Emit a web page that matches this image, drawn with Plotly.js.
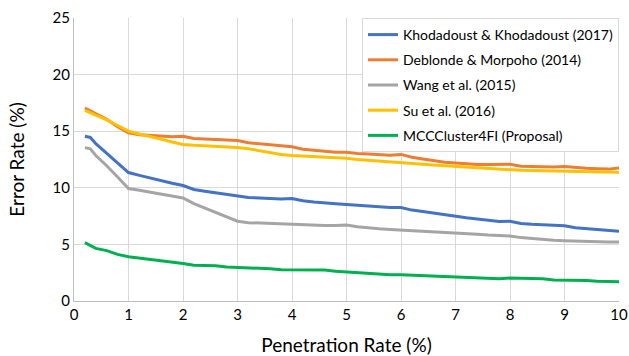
<!DOCTYPE html>
<html>
<head>
<meta charset="utf-8">
<script src="https://cdn.plot.ly/plotly-3.0.1.min.js"></script>
<style>html,body{margin:0;padding:0;background:#fff;}#chart{width:629px;height:356px;}</style>
</head>
<body>
<div id="chart"></div>
<script>
const penetration = [0.2,0.3,0.4,0.6,0.8,1.0,1.2,1.4,1.6,1.8,2.0,2.2,2.4,2.6,2.8,3.0,3.2,3.4,3.6,3.8,4.0,4.2,4.4,4.6,4.8,5.0,5.2,5.4,5.6,5.8,6.0,6.2,6.4,6.6,6.8,7.0,7.2,7.4,7.6,7.8,8.0,8.2,8.4,8.6,8.8,9.0,9.2,9.4,9.6,9.8,10.0];
const khodadoust = [14.55,14.45,13.9,13.05,12.25,11.35,11.1,10.85,10.65,10.4,10.2,9.85,9.7,9.55,9.4,9.3,9.15,9.1,9.05,9.0,9.05,8.85,8.75,8.65,8.6,8.53,8.45,8.35,8.3,8.25,8.25,8.03,7.9,7.75,7.6,7.5,7.35,7.25,7.15,7.02,7.05,6.85,6.78,6.72,6.68,6.65,6.47,6.38,6.3,6.22,6.15];
const deblonde = [17.05,16.8,16.5,16.05,15.4,14.85,14.68,14.6,14.55,14.5,14.56,14.36,14.3,14.25,14.18,14.18,13.98,13.88,13.78,13.68,13.62,13.4,13.3,13.22,13.15,13.15,13.03,12.98,12.93,12.88,12.95,12.7,12.55,12.4,12.25,12.18,12.1,12.06,12.05,12.05,12.08,11.91,11.88,11.85,11.83,11.88,11.77,11.72,11.68,11.65,11.74];
const wang = [13.55,13.45,12.85,11.95,10.95,9.94,9.78,9.62,9.48,9.3,9.1,8.6,8.2,7.8,7.4,7.05,6.92,6.88,6.86,6.83,6.82,6.75,6.72,6.68,6.68,6.71,6.55,6.45,6.38,6.32,6.27,6.22,6.18,6.15,6.1,6.06,5.98,5.9,5.83,5.77,5.74,5.6,5.5,5.42,5.36,5.32,5.28,5.24,5.21,5.21,5.21];
const su = [16.85,16.65,16.45,16.0,15.5,15.0,14.75,14.55,14.3,14.05,13.83,13.75,13.7,13.68,13.63,13.56,13.45,13.28,13.12,12.95,12.85,12.8,12.76,12.72,12.66,12.6,12.5,12.42,12.34,12.27,12.22,12.15,12.08,12.02,11.96,11.9,11.82,11.75,11.68,11.6,11.56,11.54,11.52,11.5,11.48,11.46,11.44,11.42,11.4,11.39,11.38];
const mcc = [5.15,4.9,4.65,4.45,4.12,3.91,3.8,3.68,3.55,3.48,3.32,3.15,3.12,3.12,3.0,2.96,2.94,2.92,2.85,2.76,2.76,2.76,2.74,2.74,2.62,2.56,2.5,2.43,2.35,2.32,2.32,2.28,2.22,2.2,2.16,2.12,2.06,2.02,1.98,1.97,2.03,2.02,2.0,1.96,1.85,1.84,1.83,1.82,1.74,1.71,1.71];
const seriesNames = ["Khodadoust & Khodadoust (2017)","Deblonde & Morpoho (2014)","Wang et al. (2015)","Su et al. (2016)","MCCCluster4FI (Proposal)"];
const seriesValues = [khodadoust, deblonde, wang, su, mcc];
const colors = ["#4472C4","#ED7D31","#A5A5A5","#FFC000","#00B050"];

const traces = seriesValues.map((v,i)=>({
  x: penetration, y: v, type:'scatter', mode:'lines', name: seriesNames[i],
  legendgroup: 'g'+i,
  line:{color:colors[i], width:3}
}));

const font = "Lato, 'Open Sans', sans-serif";
const layout = {
  width:629, height:356,
  margin:{l:74, r:10, t:18, b:55, autoexpand:false},
  paper_bgcolor:'#fff', plot_bgcolor:'#fff',
  font:{family:font, color:'#000', size:14},
  showlegend:true,
  legend:{x:1.0, y:1.0, xanchor:'right', yanchor:'top', bgcolor:'#fff', bordercolor:'#d9d9d9', borderwidth:1,
    font:{family:font, size:14, color:'#000'}, tracegroupgap:4, itemwidth:30},
  xaxis:{range:[0,10], dtick:1, tick0:0, showgrid:true, gridcolor:'#d9d9d9', gridwidth:1,
    showline:true, linecolor:'#bfbfbf', linewidth:1, zeroline:false, ticks:'', ticklen:0,
    automargin:false, ticklabeloverflow:'allow', tickfont:{family:font, size:15}, fixedrange:true,
    title:{text:'Penetration Rate (%)', font:{family:font, size:19}, standoff:16}},
  yaxis:{range:[0,25], dtick:5, tick0:0, showgrid:true, gridcolor:'#d9d9d9', gridwidth:1,
    showline:true, linecolor:'#bfbfbf', linewidth:1, zeroline:false, ticks:'',
    automargin:false, ticklabeloverflow:'allow', tickfont:{family:font, size:15}, fixedrange:true,
    title:{text:'Error Rate (%)', font:{family:font, size:19}, standoff:22}}
};
Plotly.newPlot('chart', traces, layout, {displayModeBar:false, staticPlot:true});
</script>
</body>
</html>
